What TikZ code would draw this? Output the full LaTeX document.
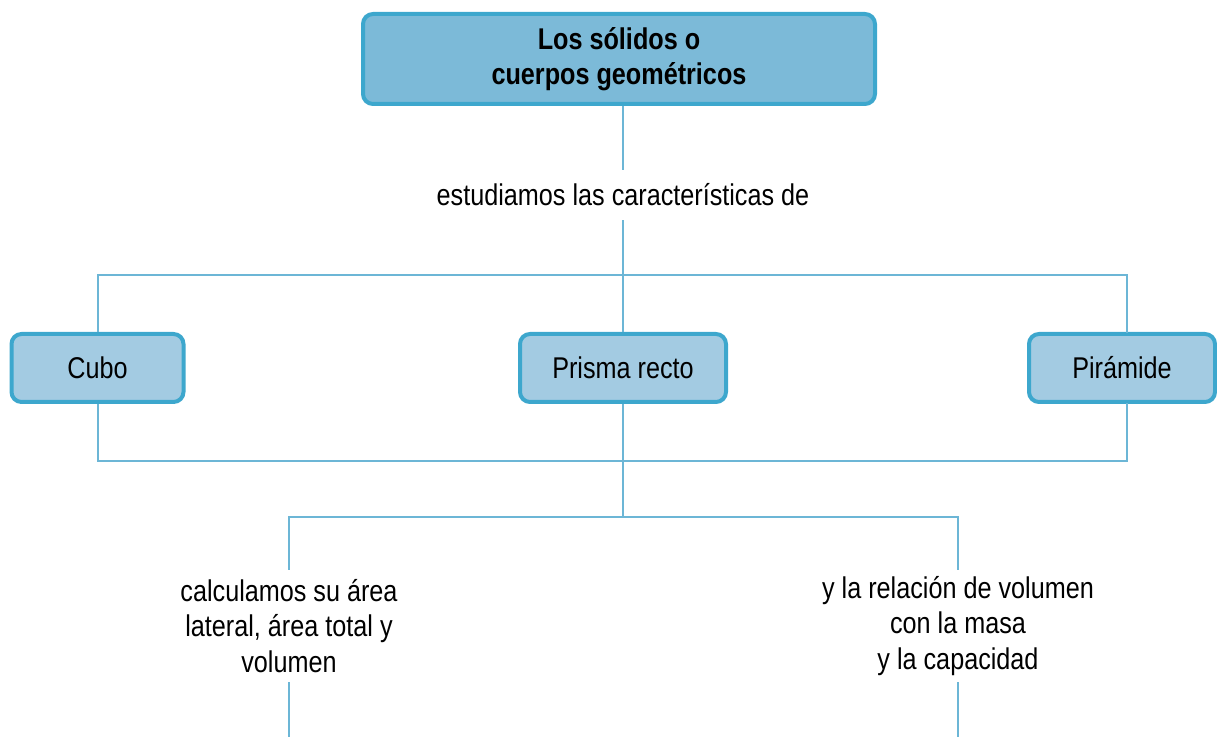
\documentclass[tikz,border=0pt]{standalone}
\usepackage{fontspec}
\setmainfont{Liberation Sans}[FakeStretch=0.84]
\usepackage{tikz}
\usetikzlibrary{positioning}
\definecolor{boxedge}{HTML}{3DA7CD}
\definecolor{headfill}{HTML}{7CBAD8}
\definecolor{boxfill}{HTML}{A3CBE2}
\definecolor{linkblue}{HTML}{6CB6D6}

\begin{document}
\begin{tikzpicture}[x=0.5pt,y=-0.5pt,
  headbox/.style={draw=boxedge,fill=headfill,line width=2pt,rounded corners=5pt,align=center,minimum width=256pt,minimum height=45pt,font=\fontsize{15}{17.5}\selectfont\bfseries},
  solid/.style={draw=boxedge,fill=boxfill,line width=2pt,rounded corners=5pt,align=center,minimum height=34pt,font=\fontsize{15}{17}\selectfont},
  phrase/.style={align=center,inner sep=0pt,font=\fontsize{15}{17.6}\selectfont},
  link/.style={linkblue,line width=1pt}]
\useasboundingbox (0,0) rectangle (1217,737);
\node[headbox] (top) at (619,59) {Los sólidos o\\cuerpos geométricos};
\node[phrase,minimum height=25pt] (study) at (623,195) {estudiamos las características de};
\node[solid,minimum width=86pt] (cubo) at (97.5,368) {Cubo};
\node[solid,minimum width=103pt] (prisma) at (623,368) {Prisma recto};
\node[solid,minimum width=93pt] (pira) at (1122,368) {Pirámide};
\node[phrase,minimum height=56pt] (calc) at (289,626) {calculamos su área\\lateral, área total y\\volumen};
\node[phrase,minimum height=56pt] (rel) at (958,626) {y la relación de volumen\\con la masa\\y la capacidad};
% junctions
\coordinate (upper) at (623,275);
\coordinate (lower) at (623,461);
\coordinate (split) at (623,517);
\coordinate (endcalc) at (289,737);
\coordinate (endrel) at (958,737);
\draw[link] (study.north) -- (study.north |- top.south);
\draw[link] (study.south) -- (prisma.north);
\draw[link] (cubo.north) |- (upper) -| (1127,333);
\draw[link] (cubo.south) |- (lower) -| (1127,403);
\draw[link] (prisma.south) -- (split);
\draw[link] (calc.north) |- (split) -| (rel.north);
\draw[link] (calc.south) -- (endcalc);
\draw[link] (rel.south) -- (endrel);
\end{tikzpicture}
\end{document}
